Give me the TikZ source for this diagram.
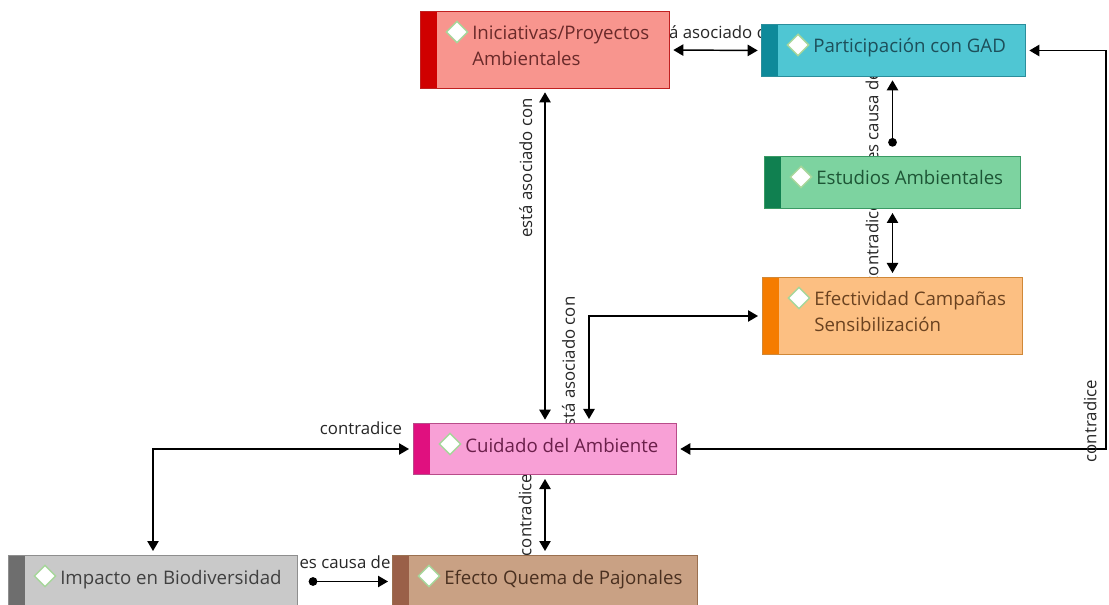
\documentclass[tikz,border=0pt]{standalone}
\usepackage{fontspec}
\setmainfont{Open Sans}
\usetikzlibrary{arrows.meta,calc,backgrounds,shapes.geometric}

% palette: bar / fill / border / text
\definecolor{iniBar}{HTML}{D00000}\definecolor{iniFill}{HTML}{F8958E}\definecolor{iniLine}{HTML}{C02020}\definecolor{iniText}{HTML}{6A2A2A}
\definecolor{gadBar}{HTML}{0E8A9A}\definecolor{gadFill}{HTML}{4FC6D3}\definecolor{gadLine}{HTML}{2B8E9C}\definecolor{gadText}{HTML}{1D4F5A}
\definecolor{estBar}{HTML}{108050}\definecolor{estFill}{HTML}{7DD3A0}\definecolor{estLine}{HTML}{3A9A64}\definecolor{estText}{HTML}{1D5535}
\definecolor{efeBar}{HTML}{F57C00}\definecolor{efeFill}{HTML}{FCBF82}\definecolor{efeLine}{HTML}{D08838}\definecolor{efeText}{HTML}{6A4220}
\definecolor{cuiBar}{HTML}{E0107F}\definecolor{cuiFill}{HTML}{F8A0D6}\definecolor{cuiLine}{HTML}{B84C8A}\definecolor{cuiText}{HTML}{6A1F4A}
\definecolor{impBar}{HTML}{6E6E6E}\definecolor{impFill}{HTML}{C9C9C9}\definecolor{impLine}{HTML}{8E8E8E}\definecolor{impText}{HTML}{404040}
\definecolor{efqBar}{HTML}{9A6048}\definecolor{efqFill}{HTML}{C9A184}\definecolor{efqLine}{HTML}{9A7050}\definecolor{efqText}{HTML}{4A3020}
\definecolor{iconLine}{HTML}{A6D69A}

\tikzset{
  concept/.style={rectangle, inner sep=0pt, anchor=north west, line width=0.75pt,
    draw=#1Line, fill=#1Fill,
    path picture={\fill[#1Bar] (path picture bounding box.south west)
      rectangle ([xshift=12pt]path picture bounding box.north west);}},
  title/.style={anchor=base west, inner sep=0pt, align=left, text=#1Text,
    font=\fontsize{14}{19.5}\selectfont},
  icon/.style={diamond, draw=iconLine, fill=white, line width=1.1pt,
    minimum width=16.5pt, minimum height=16.5pt, inner sep=0pt},
  link/.style={line width=1.1pt, black},
  tip/.style={Triangle[length=7.5pt,width=8.5pt]},
  both/.style={link, {Triangle[length=7.5pt,width=8.5pt]}-{Triangle[length=7.5pt,width=8.5pt]},
    shorten <=2.5pt, shorten >=2.5pt},
  cause/.style={link, {Circle[length=6.5pt]}-{Triangle[length=7.5pt,width=8.5pt]}},
  lbl/.style={font=\fontsize{12.6}{14}\selectfont, text=black!85, inner sep=1.5pt}
}

\begin{document}
\begin{tikzpicture}[x=0.75pt, y=-0.75pt]
\useasboundingbox (0,0) rectangle (1109,605);

% concept boxes
\node[concept=ini, minimum width=186.75pt, minimum height=57.75pt] (ini) at (420,11) {};
\node[concept=gad, minimum width=198pt,    minimum height=39pt]    (gad) at (761,24) {};
\node[concept=est, minimum width=192pt,    minimum height=39pt]    (est) at (764,156) {};
\node[concept=efe, minimum width=195pt,    minimum height=57.75pt] (efe) at (762,277) {};
\node[concept=cui, minimum width=197.25pt, minimum height=38.25pt] (cui) at (413,423) {};
\node[concept=imp, minimum width=216.75pt, minimum height=39pt]    (imp) at (8,555) {};
\node[concept=efq, minimum width=228.75pt, minimum height=39pt]    (efq) at (392,555) {};

% icons and titles (base = baseline of the last line)
\foreach \n/\b/\t in {ini/55/{Iniciativas/Proyectos\\Ambientales},
                      gad/29/{Participación con GAD},
                      est/29/{Estudios Ambientales},
                      efe/55/{Efectividad Campañas\\Sensibilización},
                      cui/29/{Cuidado del Ambiente},
                      imp/29/{Impacto en Biodiversidad},
                      efq/29/{Efecto Quema de Pajonales}}{
  \node[icon] (\n-icon) at ($(\n.north west)+(37,21)$) {};
  \node[title=\n] (\n-title) at ($(\n.north west)+(52,\b)$) {\t};
}

% relations, kept behind the boxes
\begin{pgfonlayer}{background}
\draw[both] (ini.east) -- node[lbl, above, yshift=7pt] {está asociado con} (gad.west);

\draw[cause, shorten <=7pt, shorten >=2.5pt] (est.north) --
  node[lbl, sloped, above, yshift=8.5pt] {es causa de} (est.north |- gad.south);

\draw[both, shorten <=3pt, shorten >=3pt] (efe.north) --
  node[lbl, sloped, above, yshift=8.5pt] {contradice} (est.south);

\draw[both] (cui.north) --
  node[lbl, sloped, above, pos=0.764, yshift=7.5pt] {está asociado con} (ini.south);

\draw[both, shorten <=3pt, shorten >=3pt] ([xshift=33pt]cui.north) |-
  node[lbl, sloped, above, pos=0.265, yshift=8.5pt] {está asociado con} (efe.west);

\coordinate (rside) at (1106,0);
\draw[both] (cui.east) -- (cui.east -| rside) --
  node[lbl, sloped, above, pos=0.07, yshift=5pt] {contradice} (gad.east -| rside) -- (gad.east);

\draw[both, shorten <=3pt, shorten >=3pt] (imp.north) |-
  node[lbl, above, pos=0.9, yshift=9pt] {contradice} (cui.west);

\draw[both, shorten <=3pt, shorten >=3pt] (efq.north) --
  node[lbl, sloped, above, yshift=8pt] {contradice} (cui.south);

\draw[cause, shorten <=8pt, shorten >=3pt] (imp.east) --
  node[lbl, above, yshift=7.5pt] {es causa de} (efq.west);
\end{pgfonlayer}
\end{tikzpicture}
\end{document}
